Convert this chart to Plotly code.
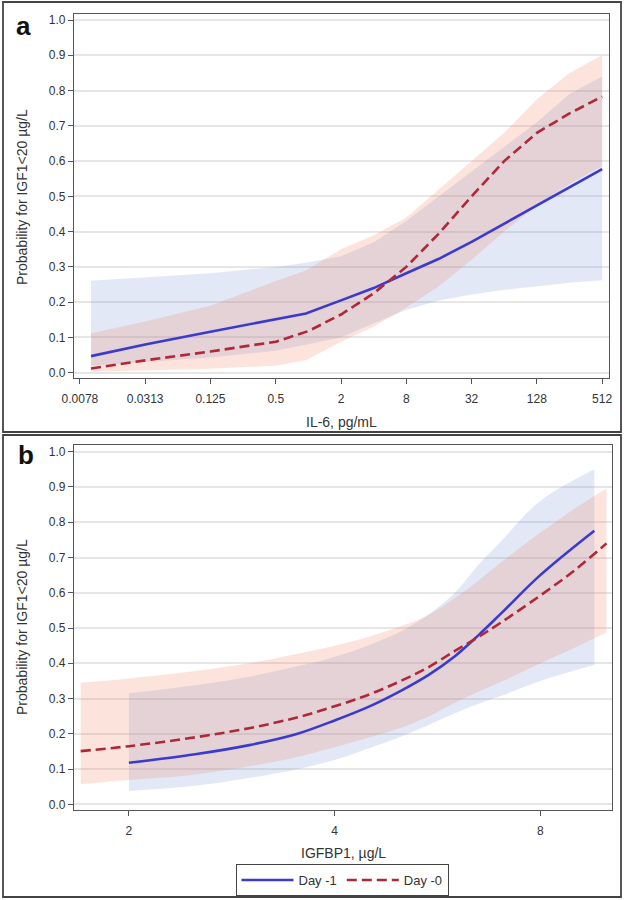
import plotly.graph_objects as go

# ---------------- Panel a: IL-6 ----------------
il6_x = [0.0099, 0.03125, 0.125, 0.5, 0.95, 2, 4, 8, 16, 32, 64, 128, 256, 512]
a_day1 = [0.047, 0.080, 0.116, 0.151, 0.168, 0.205, 0.240, 0.282, 0.323, 0.371, 0.422, 0.475, 0.526, 0.577]
a_day1_lo = [0.020, 0.030, 0.043, 0.062, 0.080, 0.100, 0.140, 0.178, 0.205, 0.222, 0.235, 0.245, 0.255, 0.262]
a_day1_hi = [0.261, 0.270, 0.282, 0.300, 0.312, 0.330, 0.370, 0.430, 0.500, 0.570, 0.640, 0.710, 0.790, 0.840]

il6_x0 = [0.0099, 0.03125, 0.125, 0.5, 0.59, 1, 2, 4, 8, 16, 32, 64, 128, 256, 512]
a_day0 = [0.012, 0.035, 0.060, 0.088, 0.095, 0.118, 0.165, 0.225, 0.300, 0.395, 0.500, 0.600, 0.680, 0.735, 0.783]
a_day0_lo = [0.003, 0.006, 0.011, 0.020, 0.035, 0.088, 0.130, 0.185, 0.245, 0.320, 0.400, 0.475, 0.535, 0.585]
a_day0_hi = [0.112, 0.145, 0.190, 0.260, 0.290, 0.350, 0.390, 0.440, 0.520, 0.600, 0.680, 0.775, 0.850, 0.900]

il6_ticks = [0.0078125, 0.03125, 0.125, 0.5, 2, 8, 32, 128, 512]
il6_ticktext = ["0.0078", "0.0313", "0.125", "0.5", "2", "8", "32", "128", "512"]

# ---------------- Panel b: IGFBP1 ----------------
bp_x1 = [2.0, 2.5, 3.0, 3.5, 4.0, 4.5, 5.0, 5.5, 6.0, 6.5, 7.0, 8.0, 9.6]
b_day1 = [0.118, 0.142, 0.168, 0.198, 0.238, 0.278, 0.322, 0.368, 0.420, 0.480, 0.540, 0.650, 0.776]
b_day1_lo = [0.038, 0.053, 0.075, 0.098, 0.126, 0.160, 0.192, 0.226, 0.258, 0.285, 0.307, 0.350, 0.395]
b_day1_hi = [0.315, 0.338, 0.362, 0.390, 0.418, 0.452, 0.490, 0.540, 0.600, 0.680, 0.745, 0.860, 0.950]

bp_x0 = [1.7, 2.0, 2.5, 3.0, 3.5, 4.0, 4.5, 5.0, 5.5, 6.0, 6.5, 7.0, 8.0, 9.0, 10.0]
b_day0 = [0.151, 0.165, 0.190, 0.216, 0.245, 0.278, 0.312, 0.350, 0.390, 0.435, 0.475, 0.515, 0.592, 0.665, 0.740]
b_day0_lo = [0.057, 0.069, 0.085, 0.108, 0.133, 0.162, 0.190, 0.217, 0.250, 0.288, 0.320, 0.347, 0.400, 0.445, 0.487]
b_day0_hi = [0.345, 0.357, 0.378, 0.400, 0.426, 0.450, 0.476, 0.505, 0.538, 0.585, 0.635, 0.685, 0.770, 0.840, 0.896]

bp_ticks = [2, 4, 8]
bp_ticktext = ["2", "4", "8"]

y_ticks = [0.0, 0.1, 0.2, 0.3, 0.4, 0.5, 0.6, 0.7, 0.8, 0.9, 1.0]

series_names = ["Day -1", "Day -0"]

BLUE = "#3A3AD0"
RED = "#B02838"
BLUE_FILL = "rgba(110,140,210,0.20)"
RED_FILL = "rgba(240,130,100,0.22)"

fig = go.Figure()


def add_band(x, lo, hi, fill, xa, ya, shape):
    fig.add_trace(go.Scatter(x=x, y=lo, mode="lines", line=dict(width=0, shape=shape),
                             showlegend=False, hoverinfo="skip", xaxis=xa, yaxis=ya))
    fig.add_trace(go.Scatter(x=x, y=hi, mode="lines", line=dict(width=0, shape=shape),
                             fill="tonexty", fillcolor=fill, showlegend=False,
                             hoverinfo="skip", xaxis=xa, yaxis=ya))


# panel a
add_band(il6_x, a_day1_lo, a_day1_hi, BLUE_FILL, "x", "y", "linear")
add_band(il6_x, a_day0_lo, a_day0_hi, RED_FILL, "x", "y", "linear")
fig.add_trace(go.Scatter(x=il6_x, y=a_day1, mode="lines", name=series_names[0],
                         line=dict(color=BLUE, width=2.6), showlegend=False, xaxis="x", yaxis="y"))
fig.add_trace(go.Scatter(x=il6_x0, y=a_day0, mode="lines", name=series_names[1],
                         line=dict(color=RED, width=2.6, dash="10px,5px"), showlegend=False,
                         xaxis="x", yaxis="y"))

# panel b
add_band(bp_x1, b_day1_lo, b_day1_hi, BLUE_FILL, "x2", "y2", "spline")
add_band(bp_x0, b_day0_lo, b_day0_hi, RED_FILL, "x2", "y2", "spline")
fig.add_trace(go.Scatter(x=bp_x1, y=b_day1, mode="lines", name=series_names[0],
                         line=dict(color=BLUE, width=2.6, shape="spline"), xaxis="x2", yaxis="y2"))
fig.add_trace(go.Scatter(x=bp_x0, y=b_day0, mode="lines", name=series_names[1],
                         line=dict(color=RED, width=2.6, dash="10px,5px", shape="spline"),
                         xaxis="x2", yaxis="y2"))

W, H = 625, 900
FONT = "Liberation Sans, Arial, sans-serif"
AX = "#555555"
GRID = "#E6E6E6"

common_y = dict(tickvals=y_ticks, tickformat=".1f", showgrid=True, gridcolor=GRID, gridwidth=1.5,
                zeroline=False, showline=True, linecolor=AX, linewidth=1.2, mirror=True,
                ticks="outside", ticklen=5, tickcolor=AX, tickfont=dict(size=12, color="#333"),
                automargin=False)
common_x = dict(type="log", showgrid=False, zeroline=False, showline=True, linecolor=AX,
                linewidth=1.2, mirror=True, ticks="outside", ticklen=5, tickcolor=AX,
                tickfont=dict(size=12, color="#333"), ticklabelstandoff=4, automargin=False)

fig.update_layout(
    width=W, height=H,
    margin=dict(l=0, r=0, t=0, b=0, autoexpand=False),
    paper_bgcolor="white", plot_bgcolor="white",
    font=dict(family=FONT, color="#333"),
    xaxis=dict(domain=[74 / W, 609 / W], anchor="y", range=[-2.1614, 2.7725],
               tickvals=il6_ticks, ticktext=il6_ticktext, **common_x),
    yaxis=dict(domain=[1 - 378 / H, 1 - 14 / H], anchor="x", range=[-0.015, 1.017], **common_y),
    xaxis2=dict(domain=[74 / W, 612 / W], anchor="y2", range=[0.2207, 1.0081],
                tickvals=bp_ticks, ticktext=bp_ticktext, **common_x),
    yaxis2=dict(domain=[1 - 810 / H, 1 - 445 / H], anchor="x2", range=[-0.016, 1.019], **common_y),
    showlegend=True,
    legend=dict(orientation="h", x=342 / W, y=1 - 880 / H, xanchor="center", yanchor="middle",
                bordercolor="#444", borderwidth=1, bgcolor="white", traceorder="normal",
                font=dict(size=13, color="#333"), itemwidth=52, tracegroupgap=0),
    shapes=[
        dict(type="rect", xref="paper", yref="paper", x0=3 / W, x1=621 / W,
             y0=1 - 432 / H, y1=1 - 2 / H, line=dict(color="#444", width=1.8)),
        dict(type="rect", xref="paper", yref="paper", x0=3 / W, x1=621 / W,
             y0=1 - 897 / H, y1=1 - 435 / H, line=dict(color="#444", width=1.8)),
    ],
    annotations=[
        dict(text="<b>a</b>", x=23 / W, y=1 - 26 / H, xref="paper", yref="paper",
             showarrow=False, font=dict(size=26, color="#111"), xanchor="center", yanchor="middle"),
        dict(text="<b>b</b>", x=26 / W, y=1 - 455 / H, xref="paper", yref="paper",
             showarrow=False, font=dict(size=26, color="#111"), xanchor="center", yanchor="middle"),
        dict(text="IL-6, pg/mL", x=341 / W, y=1 - 422 / H, xref="paper", yref="paper",
             showarrow=False, font=dict(size=14, color="#333"), xanchor="center", yanchor="middle"),
        dict(text="IGFBP1, µg/L", x=343 / W, y=1 - 853 / H, xref="paper", yref="paper",
             showarrow=False, font=dict(size=14, color="#333"), xanchor="center", yanchor="middle"),
        dict(text="Probability for IGF1<20 µg/L", x=22 / W, y=1 - 197 / H, xref="paper",
             yref="paper", showarrow=False, textangle=-90, font=dict(size=14, color="#333"),
             xanchor="center", yanchor="middle"),
        dict(text="Probability for IGF1<20 µg/L", x=22 / W, y=1 - 627 / H, xref="paper",
             yref="paper", showarrow=False, textangle=-90, font=dict(size=14, color="#333"),
             xanchor="center", yanchor="middle"),
    ],
)

fig.write_html("out.html", config={"displayModeBar": False},
               post_script="document.body.style.margin='0';document.body.style.overflow='hidden';")
